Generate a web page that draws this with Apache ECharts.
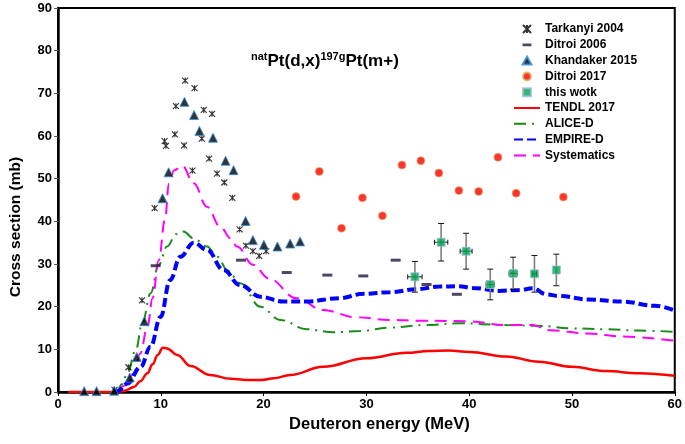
<!DOCTYPE html>
<html>
<head>
<meta charset="utf-8">
<script src="https://cdn.jsdelivr.net/npm/echarts@6/dist/echarts.min.js"></script>
<style>html,body{margin:0;padding:0;background:#fff}#c{width:685px;height:444px}</style>
</head>
<body>
<div id="c"></div>
<script>
// ---- Data (energy in MeV, cross section in mb) ----
const xTicks = [0, 10, 20, 30, 40, 50, 60];
const yTicks = [0, 10, 20, 30, 40, 50, 60, 70, 80, 90];

const tarkanyi2004 = [[5.5,0.5],[6.85,5.8],[8.17,21.5],[9.4,43.1],[10.37,58.8],[10.5,57.7],[11.37,60.4],[11.47,67.0],[12.27,57.8],[12.37,73.0],[13.08,51.9],[13.28,71.2],[13.99,59.4],[14.18,66.1],[14.7,54.7],[14.99,65.2],[15.47,51.2],[16.18,49.1],[16.96,45.5],[17.67,38.1],[18.28,34.3],[18.96,33.0],[19.57,31.9],[20.25,33.0]];
const ditroi2006 = [[9.5,29.6],[17.8,30.9],[22.25,28.0],[26.2,27.4],[29.7,27.2],[32.85,30.9],[35.85,25.2],[38.8,22.9]];
const khandaker2015 = [[2.55,0.2],[3.75,0.2],[5.46,0.3],[6.98,3.4],[7.66,8.2],[8.4,16.6],[10.17,45.4],[10.76,51.5],[12.3,68.0],[13.24,64.9],[13.76,61.2],[15.08,59.6],[16.3,54.2],[17.08,52.0],[18.25,40.1],[18.96,35.6],[20.03,34.5],[21.35,34.1],[22.58,34.8],[23.55,35.3]];
const ditroi2017 = [[23.16,45.8],[25.42,51.7],[27.58,38.4],[29.62,45.5],[31.56,41.3],[33.46,53.2],[35.3,54.2],[37.05,51.3],[39.0,47.2],[40.92,47.0],[42.8,55.0],[44.57,46.6],[49.16,45.7]];
// this work: energy, cross section, cross-section error, energy error
const thisWorkE   = [34.72, 37.27, 39.7, 42.05, 44.28, 46.35, 48.48];
const thisWorkCS  = [27.0, 35.1, 33.0, 25.2, 27.8, 27.7, 28.6];
const thisWorkDCS = [3.6, 4.4, 4.2, 3.6, 3.8, 4.3, 3.7];
const thisWorkDE  = [0.7, 0.65, 0.58, 0.4, 0.4, 0.2, 0];

const tendl2017 = [[1,0],[5.8,0],[6.5,0.3],[7.4,1.2],[8.0,2.5],[8.7,4.4],[9.2,6.5],[9.7,8.7],[10.2,10.4],[10.6,10.2],[11.6,8.7],[12.9,6.1],[14.8,4.0],[16.8,3.1],[18.7,2.8],[19.7,2.8],[21,3.2],[22.6,4.0],[25.8,5.9],[30,7.9],[33.9,9.2],[36.1,9.6],[38,9.7],[40,9.4],[43.6,8.3],[46.8,7.1],[50,5.9],[53.3,4.9],[56.5,4.4],[60,3.8]];
const aliceD = [[5.5,0],[5.8,0.5],[6.2,1.8],[6.75,4.4],[7.56,9.8],[8.2,16.1],[9.0,23.1],[9.8,29.8],[10.6,34.1],[11.5,37.0],[12.2,37.6],[13.2,36.0],[14.5,34.1],[15.5,31.7],[16.5,28.5],[17.7,25.5],[19.7,20.0],[21.6,16.9],[24.2,14.7],[26.8,14.0],[29.4,14.3],[32.3,15.1],[35.8,15.7],[39,16.1],[43.6,15.7],[46.8,15.5],[50,14.9],[53.3,14.7],[56.5,14.4],[60,14.1]];
const empireD = [[5.5,0],[5.8,0.2],[6.75,2.0],[8.04,5.9],[9.0,10.6],[9.98,17.6],[10.9,26.2],[11.9,31.7],[13.2,35.0],[14.5,33.3],[16.1,28.6],[17.7,25.1],[19.7,22.3],[21.9,21.2],[24.2,21.2],[27.4,22.0],[29.7,23.0],[32.3,23.4],[34.9,24.1],[37.1,24.7],[39,24.8],[40.3,24.4],[42.9,23.7],[44.9,23.9],[46.2,24.3],[47.5,22.9],[48.7,22.5],[51.6,21.7],[54.9,21.2],[58.1,20.2],[60,19.1]];
const systematics = [[5.8,0],[6.5,1.5],[7.4,4.4],[8.0,9],[8.7,15.3],[9.2,22],[9.8,30.9],[10.4,40.3],[10.8,48.9],[11.3,52.0],[12.1,53.0],[13.2,48.9],[14.5,43.4],[15.8,38.7],[16.8,36.0],[17.4,34.1],[19.0,29.8],[20.5,26.6],[23.2,22.0],[25.8,19.2],[29,17.5],[32.3,16.9],[35.5,16.7],[39.7,16.6],[43.6,15.7],[46.2,15.7],[47.8,14.5],[51.6,13.7],[54.9,13.0],[60,12.0]];

const seriesNames = ['Tarkanyi 2004','Ditroi 2006','Khandaker 2015','Ditroi 2017','this wotk','TENDL 2017','ALICE-D','EMPIRE-D','Systematics'];

// ---- Build ----
const FONT = 'Liberation Sans, Arial, Helvetica, sans-serif';
const thisWork = thisWorkE.map((e, i) => [e, thisWorkCS[i], thisWorkDCS[i], thisWorkDE[i]]);
const starPath = 'path://M0,0L10,10M10,0L0,10M5,0L5,10';
const dashIcon = 'path://M0,0h10v3h-10zM0,-3L0.01,-3M0,6L0.01,6';
const triIcon = 'path://M5,0L10,9L0,9Z';
const sqIcon = 'path://M0,0h10v10h-10z';
const noSym = {opacity: 0};

const chart = echarts.init(document.getElementById('c'), null, {renderer: 'canvas'});
const option = {
  animation: false,
  backgroundColor: '#fff',
  textStyle: {fontFamily: FONT},
  title: {
    text: '{s|nat}{m|Pt(d,x)}{s|197g}{m|Pt(m+)}',
    left: 246, top: 46,
    textStyle: {
      rich: {
        s: {fontSize: 11, fontWeight: 'bold', fontFamily: FONT, color: '#000', verticalAlign: 'top', lineHeight: 14, padding: [0,0,8,0]},
        m: {fontSize: 17, fontWeight: 'bold', fontFamily: FONT, color: '#000', lineHeight: 20}
      }
    }
  },
  grid: {left: 57, right: 8, top: 8, bottom: 52, show: true, borderColor: '#000', borderWidth: 2, backgroundColor: 'transparent'},
  legend: {
    orient: 'vertical', left: 508, top: 18, itemWidth: 26, itemHeight: 8, itemGap: 3.8,
    textStyle: {fontFamily: FONT, fontWeight: 'bold', fontSize: 12, color: '#000'},
    data: [
      {name: seriesNames[0], icon: starPath},
      {name: seriesNames[1], icon: dashIcon},
      {name: seriesNames[2], icon: triIcon},
      {name: seriesNames[3], icon: 'circle'},
      {name: seriesNames[4], icon: sqIcon},
      {name: seriesNames[5], itemStyle: noSym},
      {name: seriesNames[6], itemStyle: noSym},
      {name: seriesNames[7], itemStyle: noSym},
      {name: seriesNames[8], itemStyle: noSym}
    ]
  },
  xAxis: {
    type: 'value', min: xTicks[0], max: xTicks[xTicks.length-1], interval: 10,
    name: 'Deuteron energy (MeV)', nameLocation: 'middle', nameGap: 19,
    nameTextStyle: {fontFamily: FONT, fontWeight: 'bold', fontSize: 16.5, color: '#000', padding: [0,0,0,26]},
    axisLine: {lineStyle: {color: '#000', width: 2.5}},
    axisTick: {show: true, length: 4, lineStyle: {color: '#000', width: 1}},
    axisLabel: {fontFamily: FONT, fontWeight: 'bold', fontSize: 13, color: '#000', margin: 6},
    splitLine: {show: false}
  },
  yAxis: {
    type: 'value', min: yTicks[0], max: yTicks[yTicks.length-1], interval: 10,
    name: 'Cross section (mb)', nameLocation: 'middle', nameGap: 34,
    nameTextStyle: {fontFamily: FONT, fontWeight: 'bold', fontSize: 15.5, color: '#000', padding: [0,54,0,0]},
    axisLine: {lineStyle: {color: '#000', width: 2.5}},
    axisTick: {show: true, length: 4, lineStyle: {color: '#555', width: 1}},
    axisLabel: {fontFamily: FONT, fontWeight: 'bold', fontSize: 13, color: '#000', margin: 6},
    splitLine: {show: false}
  },
  series: [
    {name: seriesNames[5], type: 'line', data: tendl2017, showSymbol: false, symbol: 'none', smooth: 0.4, smoothMonotone: 'x',
     lineStyle: {color: '#ff0000', width: 2.5}, itemStyle: {color: '#ff0000'}, z: 3},
    {name: seriesNames[6], type: 'line', data: aliceD, showSymbol: false, symbol: 'none', smooth: 0.4, smoothMonotone: 'x',
     lineStyle: {color: '#1a8c1a', width: 2, type: [12,6,2,6]}, itemStyle: {color: '#1a8c1a'}, z: 3},
    {name: seriesNames[8], type: 'line', data: systematics, showSymbol: false, symbol: 'none', smooth: 0.4, smoothMonotone: 'x',
     lineStyle: {color: '#ff00ff', width: 2, type: [12,7]}, itemStyle: {color: '#ff00ff'}, z: 3},
    {name: seriesNames[7], type: 'line', data: empireD, showSymbol: false, symbol: 'none', smooth: 0.4, smoothMonotone: 'x',
     lineStyle: {color: '#0000ff', width: 4, type: [9,4]}, itemStyle: {color: '#0000ff'}, z: 3},
    {name: seriesNames[0], type: 'scatter', data: tarkanyi2004, symbol: starPath, symbolSize: 6,
     itemStyle: {color: 'rgba(0,0,0,0)', borderColor: '#000', borderWidth: 1.1}, z: 4},
    {name: seriesNames[1], type: 'scatter', data: ditroi2006, symbol: 'rect', symbolSize: [10,3],
     itemStyle: {color: '#26163d'}, z: 4},
    {name: seriesNames[2], type: 'scatter', data: khandaker2015, symbol: 'triangle', symbolSize: [9,9],
     itemStyle: {color: '#000', borderColor: '#2e8fe6', borderWidth: 1}, z: 4},
    {name: seriesNames[3], type: 'scatter', data: ditroi2017, symbol: 'circle', symbolSize: 8,
     itemStyle: {color: '#ff0000', borderColor: '#d9b95a', borderWidth: 0.8}, z: 4},
    {name: 'errbars', type: 'custom', data: thisWork, z: 5, silent: true,
     renderItem: function (params, api) {
       const x = api.value(0), y = api.value(1), dy = api.value(2), dx = api.value(3);
       const top = api.coord([x, y + dy]), bot = api.coord([x, y - dy]);
       const l = api.coord([x - dx, y]), r = api.coord([x + dx, y]);
       const ch = [
         {type: 'line', shape: {x1: top[0], y1: top[1], x2: bot[0], y2: bot[1]}, style: {stroke: '#7f7f7f', lineWidth: 1.6}},
         {type: 'line', shape: {x1: top[0]-3, y1: top[1], x2: top[0]+3, y2: top[1]}, style: {stroke: '#111', lineWidth: 1}},
         {type: 'line', shape: {x1: bot[0]-3, y1: bot[1], x2: bot[0]+3, y2: bot[1]}, style: {stroke: '#111', lineWidth: 1}}
       ];
       if (dx > 0) {
         ch.push({type: 'line', shape: {x1: l[0], y1: l[1], x2: r[0], y2: r[1]}, style: {stroke: '#333', lineWidth: 1.2}});
         ch.push({type: 'line', shape: {x1: l[0], y1: l[1]-2.5, x2: l[0], y2: l[1]+2.5}, style: {stroke: '#111', lineWidth: 1}});
         ch.push({type: 'line', shape: {x1: r[0], y1: r[1]-2.5, x2: r[0], y2: r[1]+2.5}, style: {stroke: '#111', lineWidth: 1}});
       }
       return {type: 'group', children: ch};
     }},
    {name: seriesNames[4], type: 'scatter', data: thisWork.map(d => [d[0], d[1]]), symbol: 'rect', symbolSize: 8,
     itemStyle: {color: '#00a550', borderColor: '#9bbbd8', borderWidth: 1}, z: 6}
  ]
};
chart.setOption(option);
</script>
</body>
</html>
